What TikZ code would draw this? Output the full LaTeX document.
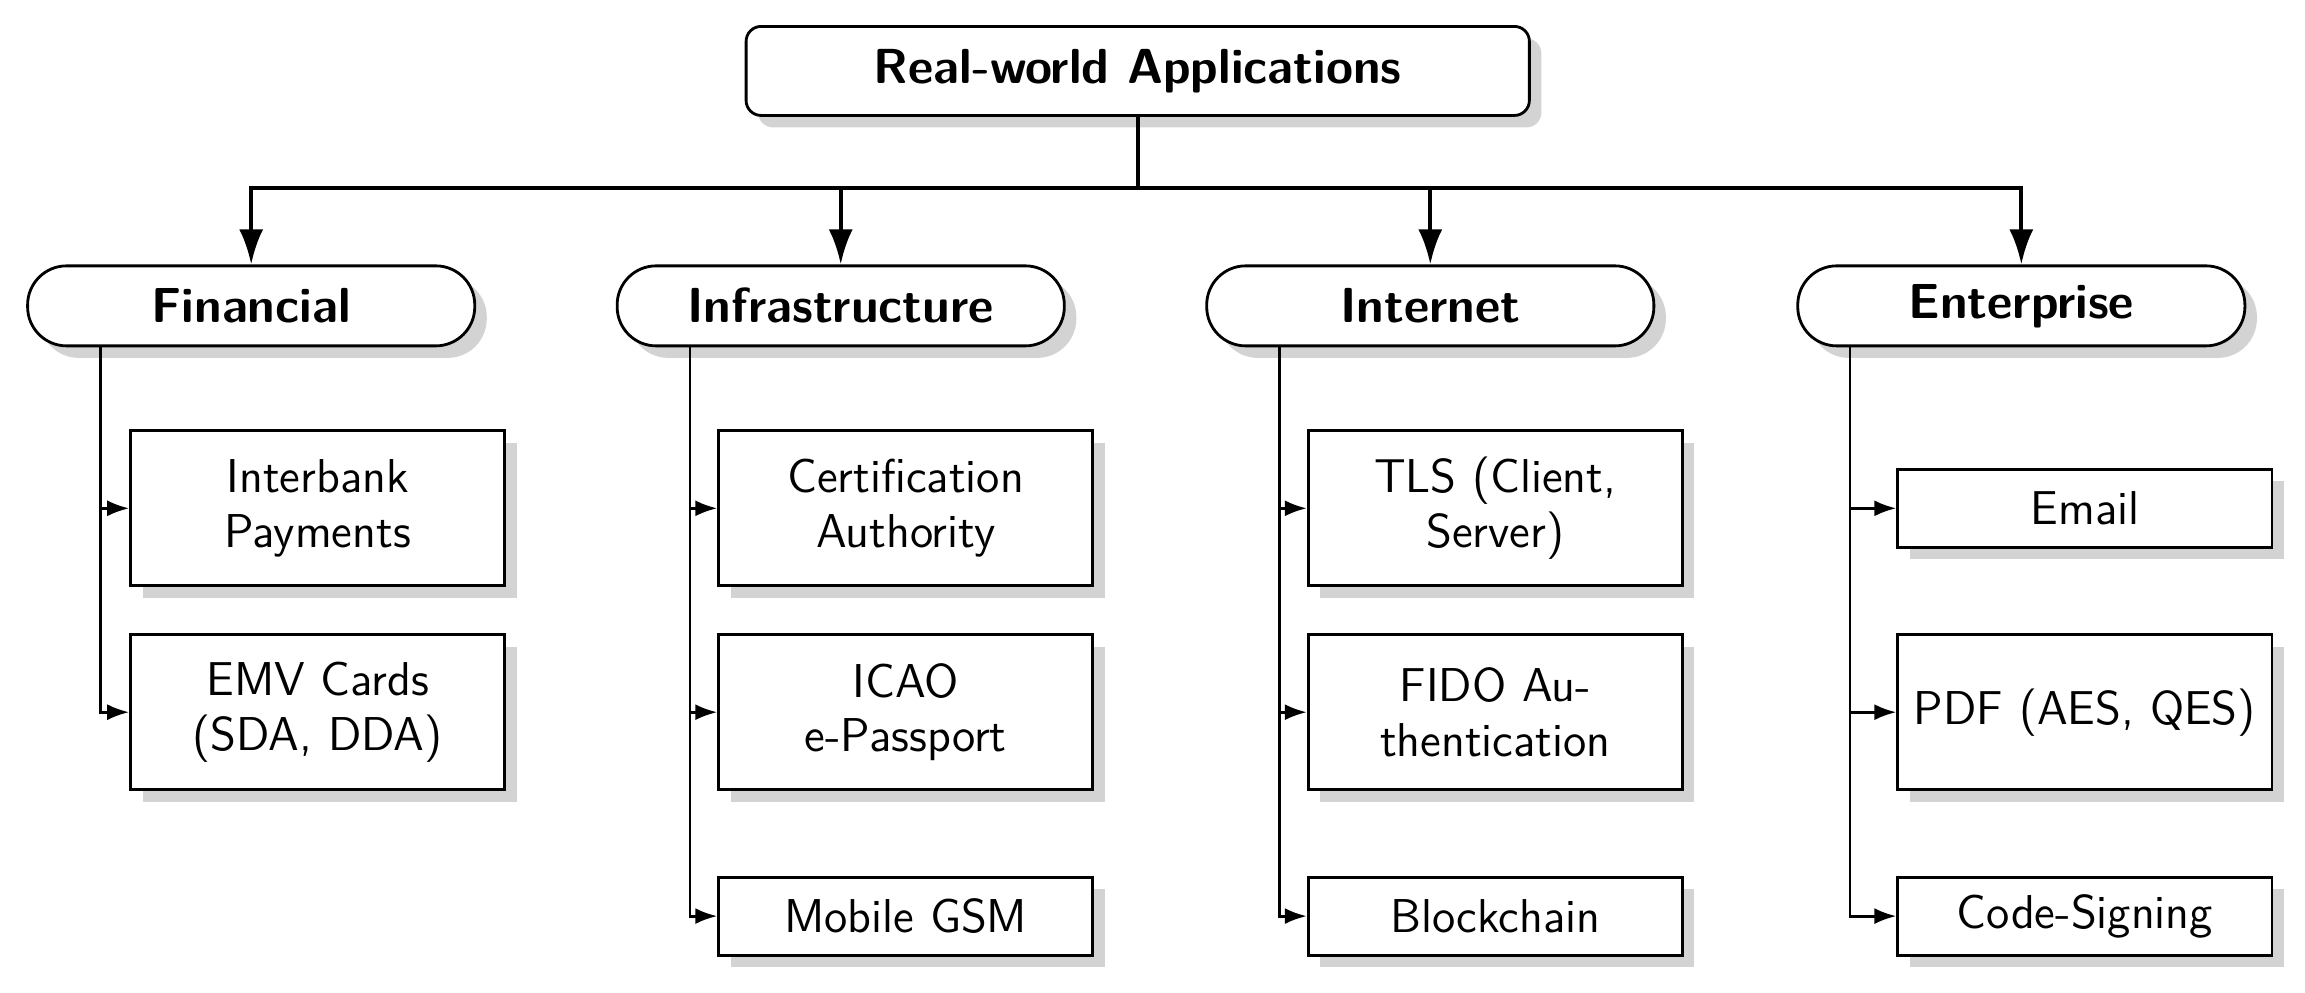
\documentclass[tikz,border=0pt]{standalone}
\usetikzlibrary{shadows,arrows.meta}
\renewcommand{\familydefault}{\sfdefault}
\tikzset{
  app/.style = {draw, fill = white, thick, font = \fontsize{13.5}{15.5}\selectfont,
    minimum width = 3.74cm, text width = 3.5cm, align = center, inner sep = 2pt,
    drop shadow = {opacity = 0.35, shadow xshift = 1.2mm, shadow yshift = -1.2mm}},
  two/.style = {app, minimum height = 1.55cm},
  one/.style = {app, minimum height = 0.78cm},
  cat/.style = {draw, fill = white, thick, rounded corners = 0.39cm, font = \fontsize{14}{16}\selectfont\bfseries,
    minimum width = 4.47cm, minimum height = 0.8cm,
    drop shadow = {opacity = 0.35, shadow xshift = 1.2mm, shadow yshift = -1.2mm}},
  root/.style = {cat, rounded corners = 0.15cm, minimum width = 7.83cm, minimum height = 0.89cm},
  bus/.style = {very thick, -{Latex[length = 3.5mm, width = 2.4mm]}},
  leaf/.style = {thick, -{Latex[length = 2.2mm, width = 1.6mm]}}
}
\begin{document}
\begin{tikzpicture}[x = 0.014776cm, y = -0.014776cm]
\useasboundingbox (0, 0) rectangle (1560, 672);

	% Root

	\node [root] (real) at (770, 48) {Real-world Applications};

	% Categories

	\node [cat] (fin) at (170, 207) {Financial};
	\node [cat] (inf) at (569, 207) {Infrastructure};
	\node [cat] (int) at (968, 207) {Internet};
	\node [cat] (ent) at (1368, 207) {Enterprise};

	% Applications

	\node [two] (bank) at (215, 344) {Interbank Payments};
	\node [two] (emv) at (215, 482) {EMV Cards (SDA, DDA)};

	\node [two] (ca) at (613, 344) {Certification Authority};
	\node [two] (icao) at (613, 482) {ICAO\\e-Passport};
	\node [one] (gsm) at (613, 620) {Mobile GSM};

	\node [two] (tls) at (1012, 344) {TLS (Client, Server)};
	\node [two] (fido) at (1012, 482) {FIDO Au-\\thentication};
	\node [one] (chain) at (1012, 620) {Blockchain};

	\node [one] (mail) at (1411, 344) {Email};
	\node [two] (pdf) at (1411, 482) {PDF (AES, QES)};
	\node [one] (code) at (1411, 620) {Code-Signing};

	% Bus

	\coordinate (hub) at (770, 127);
	\draw [very thick] (real.south) -- (hub);
	\foreach \c in {fin, inf, int, ent}
		\draw [bus] (hub) -| (\c.north);

	% Branches

	\foreach \c/\x/\a in {fin/68/{bank, emv}, inf/467/{ca, icao, gsm},
		int/866/{tls, fido, chain}, ent/1252/{mail, pdf, code}} {
		\foreach \b in \a
			\draw [leaf] (\c.south -| \x, 0) |- (\b.west);
	}

\end{tikzpicture}
\end{document}
